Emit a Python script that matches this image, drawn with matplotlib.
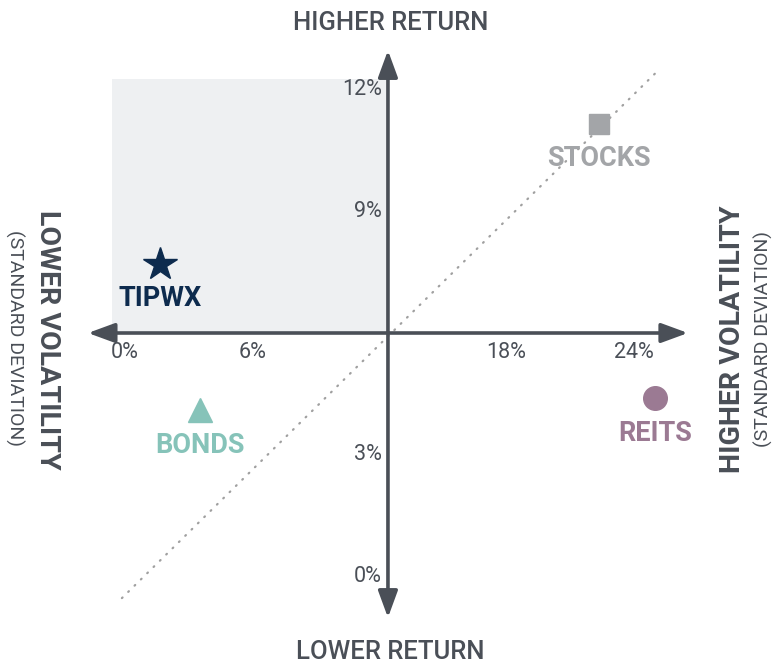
import matplotlib
matplotlib.use("Agg")
import matplotlib.pyplot as plt
from matplotlib.patches import Rectangle

# ---- data ----
assets = ["TIPWX", "STOCKS", "BONDS", "REITS"]
volatility = [1.7, 22.4, 3.6, 25.05]     # x, % std dev
returns = [7.7, 11.15, 4.1, 4.4]         # y, % return
markers = ["*", "s", "^", "o"]
colors = ["#0d2b4e", "#a3a5a8", "#86c3b9", "#9b7a93"]
marker_sizes = [25, 15, 17, 17]

x_ticks = [0, 6, 18, 24]
x_tick_labels = ["0%", "6%", "18%", "24%"]
y_ticks = [0, 3, 9, 12]
y_tick_labels = ["0%", "3%", "9%", "12%"]

x_cross, y_cross = 12.45, 6.0

AX = "#4a4f57"
FONT = ['Liberation Sans Narrow', 'Roboto', 'DejaVu Sans']
plt.rcParams['font.family'] = FONT

fig = plt.figure(figsize=(7.74, 6.66), dpi=100)
ax = fig.add_axes([0, 0, 1, 1])
ax.set_xlim(-5.85, 30.66)
ax.set_ylim(-2.19, 14.19)
ax.axis('off')

# shaded quadrant
ax.add_patch(Rectangle((-0.57, y_cross), x_cross + 0.57, 12.25 - y_cross,
                       facecolor="#eef0f2", edgecolor="none", zorder=0))

# diagonal dotted line
ax.plot([-0.1, 25.3], [-0.52, 12.51], color="#a0a0a0", lw=1.6,
        linestyle=(0, (0.4, 3.6)), dash_capstyle='round', zorder=1)

# axes with arrows
arrow = dict(arrowstyle='-|>,head_length=0.9,head_width=0.33', lw=2.6, color=AX,
             shrinkA=0, shrinkB=0, mutation_scale=18)
for tip in [(-1.7, y_cross), (26.6, y_cross)]:
    ax.annotate('', xy=tip, xytext=(x_cross, y_cross), arrowprops=arrow, zorder=2)
for tip in [(x_cross, 12.95), (x_cross, -1.0)]:
    ax.annotate('', xy=tip, xytext=(x_cross, y_cross), arrowprops=arrow, zorder=2)

# tick labels
for v, lab in zip(x_ticks, x_tick_labels):
    ax.annotate(lab, (v, y_cross), xytext=(1, -20), textcoords='offset pixels',
                ha='center', va='center', fontsize=15.5, color=AX)
for v, lab in zip(y_ticks, y_tick_labels):
    ax.annotate(lab, (x_cross, v), xytext=(-6, 0), textcoords='offset pixels',
                ha='right', va='center', fontsize=15.5, color=AX)

# points
for a, x, y, m, c, s in zip(assets, volatility, returns, markers, colors, marker_sizes):
    ax.plot([x], [y], marker=m, ms=s, color=c, mec=c, linestyle='none', zorder=3)
    ax.annotate(a, (x, y), xytext=(0, -35), textcoords='offset pixels',
                ha='center', va='center', fontsize=19.5, fontweight='bold', color=c)

# titles
fig.text(391/774, 1 - 23/666, "HIGHER RETURN", ha='center', va='center',
         fontsize=18.5, color=AX, fontweight='medium')
fig.text(390/774, 1 - 652/666, "LOWER RETURN", ha='center', va='center',
         fontsize=18.5, color=AX, fontweight='medium')
fig.text(47/774, 1 - 340/666, "LOWER VOLATILITY", ha='center', va='center',
         rotation=270, fontsize=20.5, color=AX, fontweight='bold')
fig.text(15/774, 1 - 338/666, "(STANDARD DEVIATION)", ha='center', va='center',
         rotation=270, fontsize=14, color=AX)
fig.text(733/774, 1 - 339/666, "HIGHER VOLATILITY", ha='center', va='center',
         rotation=90, fontsize=20.5, color=AX, fontweight='bold')
fig.text(763/774, 1 - 339/666, "(STANDARD DEVIATION)", ha='center', va='center',
         rotation=90, fontsize=14, color=AX)

fig.savefig("out.png", dpi=100)
